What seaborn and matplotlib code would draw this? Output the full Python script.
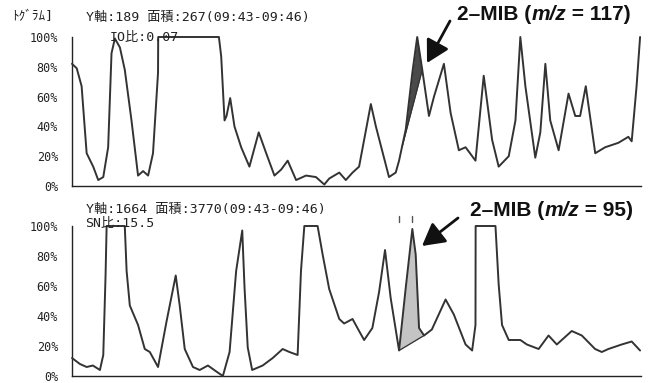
import numpy as np
import pandas as pd
import matplotlib
matplotlib.use("Agg")
import matplotlib.pyplot as plt
import seaborn as sns

# ---------------- data ----------------
t_top = [0.0, 0.31, 0.63, 0.96, 1.39, 1.72, 2.05, 2.37, 2.59, 2.81, 3.14, 3.46, 3.90, 4.33, 4.66,
         4.99, 5.31, 5.64, 5.65, 9.63, 9.78, 10.0, 10.13, 10.37, 10.65, 11.09, 11.63, 12.24, 12.73,
         13.27, 13.71, 14.14, 14.69, 15.34, 15.99, 16.54, 16.86, 17.52, 17.95, 18.39, 18.82, 19.59,
         19.92, 20.78, 21.22, 21.44, 21.88, 22.31, 22.63, 22.96, 23.40, 23.73, 24.38, 24.82, 25.36,
         25.80, 26.45, 26.99, 27.54, 27.97, 28.63, 29.07, 29.39, 29.72, 30.37, 30.70, 31.03, 31.35,
         31.90, 32.55, 32.99, 33.31, 33.68, 34.30, 34.95, 35.82, 36.47, 36.69, 37.01, 37.24]
i_top = [82, 79, 67, 22, 13, 4, 6, 26, 89, 99, 93, 78, 44, 7, 10,
         7, 22, 76, 100, 100, 87, 44, 47, 59, 40, 26, 13, 36, 22,
         7, 11, 17, 4, 7, 6, 1, 5, 9, 4, 9, 13, 55,
         40, 6, 9, 17, 38, 76, 100, 78, 47, 60, 82, 49, 24,
         26, 17, 74, 31, 13, 20, 44, 100, 67, 19, 36, 82, 44,
         24, 62, 47, 47, 67, 22, 26, 29, 33, 30, 67, 100]

t_bot = [0.0, 0.52, 0.96, 1.37, 1.83, 2.05, 2.20, 2.27, 3.46, 3.58, 3.79, 4.33, 4.77, 5.10, 5.64,
         6.19, 6.80, 7.06, 7.39, 7.93, 8.37, 8.91, 9.46, 9.89, 10.33, 10.76, 11.16, 11.31, 11.52,
         11.81, 12.50, 13.16, 13.81, 14.25, 14.79, 15.01, 15.23, 16.10, 16.43, 16.86, 17.52, 17.84,
         18.39, 18.82, 19.15, 19.69, 20.13, 20.52, 20.89, 21.44, 21.88, 22.31, 22.53, 22.75, 23.08,
         23.59, 24.49, 25.03, 25.80, 26.23, 26.45, 26.46, 27.76, 27.97, 28.19, 28.63, 29.39, 29.82,
         30.59, 31.24, 31.78, 32.76, 33.42, 34.29, 34.73, 35.16, 36.03, 36.69, 37.24]
i_bot = [12, 8, 6, 7, 4, 14, 67, 100, 100, 70, 47, 34, 18, 16, 6,
         36, 67, 47, 18, 6, 4, 7, 3, 0, 16, 70, 97, 59, 19,
         4, 7, 12, 18, 16, 14, 70, 100, 100, 81, 58, 38, 35,
         38, 30, 24, 32, 56, 84, 52, 17, 59, 98, 81, 32, 27,
         31, 51, 41, 21, 17, 34, 100, 100, 61, 34, 24, 24, 21,
         18, 27, 21, 30, 27, 18, 16, 18, 21, 23, 17]

mib_window_top = [21.63, 22.96]
mib_window_bot = [21.44, 23.08]
mib_marks_bot = [21.44, 22.31]

y_ticks = [0, 20, 40, 60, 80, 100]
y_labels = ["0%", "20%", "40%", "60%", "80%", "100%"]

hdr_top = ["ﾄｸﾞﾗﾑ]", "Y軸:189 面積:267(09:43-09:46)", "IO比:0.07"]
hdr_bot = ["Y軸:1664 面積:3770(09:43-09:46)", "SN比:15.5"]
label_top = ["2–MIB (", "m/z", " = 117)"]
label_bot = ["2–MIB (", "m/z", " = 95)"]

# ---------------- style ----------------
sns.set_style("white")
plt.rcParams["font.family"] = ["DejaVu Sans Mono", "Noto Sans CJK JP"]

W, H = 658, 383
fig = plt.figure(figsize=(W / 100, H / 100), dpi=100)
fig.patch.set_facecolor("white")

def fx(px):
    return px / W

def fy(py):
    return 1 - py / H

LINE = "#333333"
x0, x1 = 72, 641
ax_top = fig.add_axes([fx(x0), fy(186), fx(x1 - x0), (186 - 37) / H])
ax_bot = fig.add_axes([fx(x0), fy(376), fx(x1 - x0), (376 - 226) / H])

df_top = pd.DataFrame({"t": t_top, "i": i_top})
df_bot = pd.DataFrame({"t": t_bot, "i": i_bot})


def style_axis(ax):
    ax.set_xlim(0, 37.3)
    ax.set_ylim(0, 100)
    for s in ["top", "right"]:
        ax.spines[s].set_visible(False)
    for s in ["left", "bottom"]:
        ax.spines[s].set_color("#222222")
        ax.spines[s].set_linewidth(1.0)
    ax.set_yticks(y_ticks)
    ax.set_yticklabels(y_labels, fontsize=8.5, color="#222222")
    ax.set_xticks([0, 10, 20, 30])
    ax.set_xticks(np.arange(0, 38, 1), minor=True)
    ax.set_xticklabels([])
    ax.tick_params(axis="y", direction="out", length=8, width=1, color="#222222", pad=2)
    ax.tick_params(axis="x", which="major", direction="out", length=5, width=1, color="#222222")
    ax.tick_params(axis="x", which="minor", direction="out", length=3, width=0.8, color="#222222")
    ax.set_xlabel("")
    ax.set_ylabel("")
    ax.set_facecolor("white")


def fill_peak(ax, t, i, window, color):
    xs = np.linspace(window[0], window[1], 80)
    upper = np.interp(xs, t, i)
    y0 = np.interp(window[0], t, i)
    y1 = np.interp(window[1], t, i)
    base = y0 + (y1 - y0) * (xs - window[0]) / (window[1] - window[0])
    ax.fill_between(xs, base, upper, color=color, linewidth=0, zorder=1)
    ax.plot([window[0], window[1]], [y0, y1], color=LINE, lw=0.9, zorder=2)


fill_peak(ax_top, t_top, i_top, mib_window_top, "#4a4a4a")
fill_peak(ax_bot, t_bot, i_bot, mib_window_bot, "#c4c4c4")

sns.lineplot(data=df_top, x="t", y="i", ax=ax_top, color=LINE, lw=1.4, sort=False,
             estimator=None, zorder=3)
sns.lineplot(data=df_bot, x="t", y="i", ax=ax_bot, color=LINE, lw=1.4, sort=False,
             estimator=None, zorder=3)
for ax in (ax_top, ax_bot):
    for ln in ax.lines:
        ln.set_clip_on(False)
    style_axis(ax)

for m in mib_marks_bot:
    ax_bot.plot([m, m], [103, 107], color="#555555", lw=1.0, clip_on=False)

# headers
fs_hdr = 9.5
fig.text(fx(12), fy(17), hdr_top[0], fontsize=fs_hdr, va="center", ha="left", color="#222222")
fig.text(fx(86), fy(17), hdr_top[1], fontsize=fs_hdr, va="center", ha="left", color="#222222")
fig.text(fx(110), fy(37), hdr_top[2], fontsize=fs_hdr, va="center", ha="left", color="#222222")
fig.text(fx(86), fy(209), hdr_bot[0], fontsize=fs_hdr, va="center", ha="left", color="#222222")
fig.text(fx(85), fy(224), hdr_bot[1], fontsize=fs_hdr, va="center", ha="left", color="#222222")

# annotations: three pieces laid out side by side (italic m/z)
fig.canvas.draw()
renderer = fig.canvas.get_renderer()


def put_label(parts, px, py):
    x = fx(px)
    styles = ["normal", "italic", "normal"]
    for part, st in zip(parts, styles):
        t = fig.text(x, fy(py), part, fontsize=15, fontweight="bold", fontstyle=st,
                     family=["Liberation Sans"], color="#111111", va="center", ha="left")
        bb = t.get_window_extent(renderer=renderer)
        x += bb.width / W


put_label(label_top, 457, 14)
put_label(label_bot, 470, 211)

arrow = dict(arrowstyle="-|>,head_length=0.9,head_width=0.5", color="#111111", lw=2.0,
             mutation_scale=15, shrinkA=0, shrinkB=0)
fig.add_artist(matplotlib.patches.FancyArrowPatch((fx(450), fy(21)), (fx(427), fy(63)),
                                                  transform=fig.transFigure, **arrow))
fig.add_artist(matplotlib.patches.FancyArrowPatch((fx(458), fy(218)), (fx(422), fy(246)),
                                                  transform=fig.transFigure, **arrow))

fig.savefig("out.png", dpi=100, facecolor="white")
